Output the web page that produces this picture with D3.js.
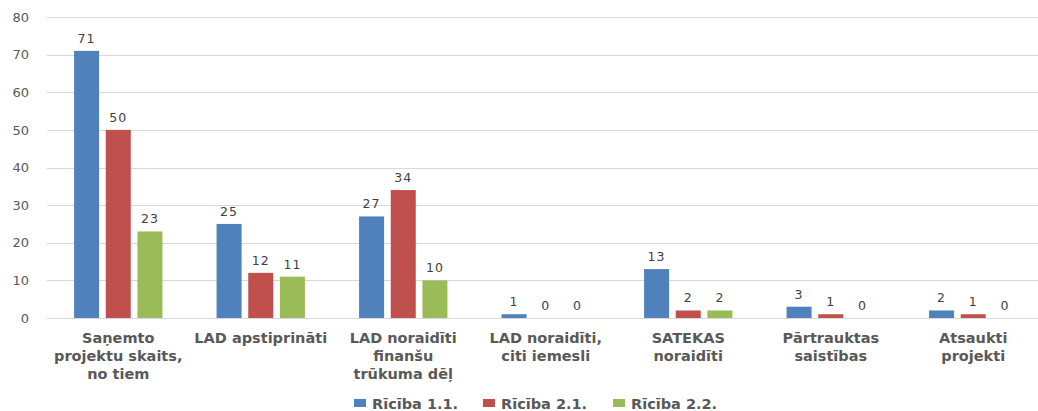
<!DOCTYPE html>
<html><head><meta charset="utf-8">
<script src="https://cdn.jsdelivr.net/npm/d3@7"></script>
<style>
html,body{margin:0;padding:0;background:#fff;}
svg{display:block;}
</style></head>
<body>
<svg id="chart" width="1038" height="411"></svg>
<script>
const categories = [
  ["Saņemto", "projektu skaits,", "no tiem"],
  ["LAD apstiprināti"],
  ["LAD noraidīti", "finanšu", "trūkuma dēļ"],
  ["LAD noraidīti,", "citi iemesli"],
  ["SATEKAS", "noraidīti"],
  ["Pārtrauktas", "saistības"],
  ["Atsaukti", "projekti"]
];
const seriesNames = ["Rīcība 1.1.", "Rīcība 2.1.", "Rīcība 2.2."];
const ricība11 = [71, 25, 27, 1, 13, 3, 2];
const ricība21 = [50, 12, 34, 0, 2, 1, 1];
const ricība22 = [23, 11, 10, 0, 2, 0, 0];
const yTicks = [0, 10, 20, 30, 40, 50, 60, 70, 80];
const colors = ["#4f81bd", "#c0504d", "#9bbb59"];

const seriesValues = [ricība11, ricība21, ricība22];
const svg = d3.select("#chart");
const catKeys = categories.map((c, i) => i);

const x0 = d3.scaleBand().domain(catKeys).range([47, 47 + 7 * 142.5])
  .paddingInner(0.38).paddingOuter(0.19);
const x1 = d3.scaleBand().domain(d3.range(3)).range([0, x0.bandwidth()])
  .paddingInner(0.21).paddingOuter(0);
const y = d3.scaleLinear().domain([0, 80]).range([318, 17]);

// gridlines
svg.append("g").selectAll("line").data(yTicks).join("line")
  .attr("x1", 47).attr("x2", 1044)
  .attr("y1", d => Math.round(y(d)) + 0.5).attr("y2", d => Math.round(y(d)) + 0.5)
  .attr("stroke", "#d9d9d9").attr("stroke-width", 1);

// y axis labels
const yAxis = d3.axisLeft(y).tickValues(yTicks).tickSize(0).tickPadding(0);
const gy = svg.append("g").attr("transform", "translate(29,0)").call(yAxis);
gy.select(".domain").remove();
gy.selectAll("text").attr("fill", "#595959").style("font-family", "DejaVu Sans, Verdana, sans-serif").style("font-size", "13px");

// bars
const groups = svg.append("g").selectAll("g").data(catKeys).join("g")
  .attr("transform", d => `translate(${x0(d)},0)`);
groups.selectAll("rect").data(ci => seriesValues.map((s, si) => ({si, v: s[ci]})))
  .join("rect")
  .attr("x", d => x1(d.si)).attr("width", x1.bandwidth())
  .attr("y", d => y(d.v)).attr("height", d => y(0) - y(d.v))
  .attr("fill", d => colors[d.si]);

groups.selectAll("text.val").data(ci => seriesValues.map((s, si) => ({si, v: s[ci]})))
  .join("text").attr("class", "val")
  .attr("x", d => x1(d.si) + x1.bandwidth() / 2)
  .attr("y", d => y(d.v) - 8)
  .attr("text-anchor", "middle")
  .attr("fill", "#404040")
  .style("font-family", "DejaVu Sans, Verdana, sans-serif").style("font-size", "12.5px")
  .style("letter-spacing", "1px")
  .text(d => String(d.v));

// x labels
const xl = svg.append("g").selectAll("text").data(catKeys).join("text")
  .attr("x", d => x0(d) + x0.bandwidth() / 2)
  .attr("y", 343)
  .attr("text-anchor", "middle")
  .attr("fill", "#595959")
  .style("font-family", "DejaVu Sans, Verdana, sans-serif").style("font-size", "14.5px").style("font-weight", "bold");
xl.selectAll("tspan").data(d => categories[d]).join("tspan")
  .attr("x", function() { return d3.select(this.parentNode).attr("x"); })
  .attr("dy", (d, i) => i === 0 ? 0 : 18)
  .text(d => d);

// legend
const legendX = [354, 483, 613];
const lg = svg.append("g").selectAll("g").data(seriesNames).join("g")
  .attr("transform", (d, i) => `translate(${legendX[i]},399)`);
lg.append("rect").attr("width", 12).attr("height", 8).attr("fill", (d, i) => colors[i]);
lg.append("text").attr("x", 18).attr("y", 9.5)
  .attr("fill", "#595959")
  .style("font-family", "DejaVu Sans, Verdana, sans-serif").style("font-size", "14.5px").style("font-weight", "bold")
  .text(d => d);
</script>
</body></html>
